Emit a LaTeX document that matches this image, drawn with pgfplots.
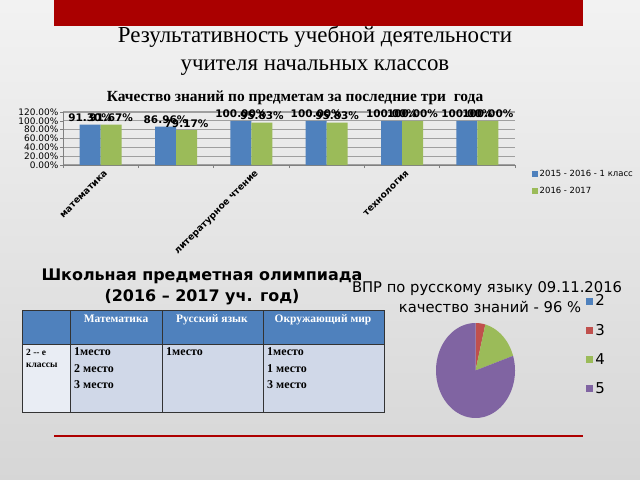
\documentclass[border=0pt]{standalone}
\usepackage{pgfplots}
\pgfplotsset{compat=1.18}
\usepackage{fontspec}
\setmainfont{DejaVu Sans}
\newfontfamily\tnr{Liberation Serif}
\definecolor{cblue}{HTML}{4F81BD}
\definecolor{cgreen}{HTML}{9BBB59}
\definecolor{cred}{HTML}{C0504D}
\definecolor{cpurple}{HTML}{8064A2}
\definecolor{slidered}{HTML}{AA0000}
\definecolor{thead}{HTML}{4F81BD}
\definecolor{tbody}{HTML}{D0D8E8}
\definecolor{tfirst}{HTML}{E9EDF4}
\begin{document}
\begin{tikzpicture}[x=1bp,y=-1bp]
\shade[top color=white!95!black, bottom color=white!84!black] (0,0) rectangle (640,480);
\fill[slidered] (54,0) rectangle (583,26);
\node[font=\tnr\fontsize{23}{28}\selectfont, anchor=base, inner sep=0] at (315,43) {Результативность учебной деятельности};
\node[font=\tnr\fontsize{23}{28}\selectfont, anchor=base, inner sep=0] at (315,71) {учителя начальных классов};
\node[font=\tnr\bfseries\fontsize{15.5}{17}\selectfont, anchor=base, inner sep=0] at (295,102) {Качество знаний по предметам за последние три\ \ года};

\begin{axis}[at={(63bp,-165bp)}, anchor=south west, scale only axis,
  width=452bp, height=53bp,
  ybar=0pt, bar width=21bp,
  ymin=0, ymax=120, xmin=-0.5, xmax=5.5,
  axis x line*=bottom, axis y line*=left,
  axis line style={gray, line width=0.8bp},
  ytick={0,20,...,120},
  yticklabels={0.00\%,20.00\%,40.00\%,60.00\%,80.00\%,100.00\%,120.00\%},
  /pgf/number format/assume math mode=true,
  ymajorgrids, grid style={gray!75, line width=1.1bp},
  tick align=outside, major tick length=3bp,
  tick style={gray, line width=0.6bp},
  xtick={-0.5,0.5,...,5.5}, xticklabels={},
  extra x ticks={0,1,2,3,4,5},
  extra x tick labels={математика,,литературное чтение,,технология,},
  extra x tick style={major tick length=0pt, grid=none},
  x tick label style={font=\bfseries\fontsize{9.2}{10}\selectfont, rotate=45, anchor=north east, inner sep=1bp, yshift=-5bp},
  y tick label style={font=\fontsize{9}{9}\selectfont, inner sep=1.5bp},
  nodes near coords={\pgfmathprintnumber[fixed,fixed zerofill,precision=2]{\pgfplotspointmeta}\%},
  every node near coord/.append style={font=\bfseries\fontsize{10.5}{11}\selectfont, black, inner sep=1.5bp, yshift=1bp},
  legend style={at={(1.03,-0.02)}, anchor=north west, draw=none, fill=none,
    font=\fontsize{8.5}{9}\selectfont, row sep=5bp},
  legend cell align=left,
  legend image code/.code={\fill[#1,draw=none] (0bp,-3bp) rectangle (6bp,3bp);},
]
\addplot[fill=cblue, draw=none] coordinates {(0,91.30) (1,86.96) (2,100) (3,100) (4,100) (5,100)};
\addplot[fill=cgreen, draw=none] coordinates {(0,91.67) (1,79.17) (2,95.83) (3,95.83) (4,100) (5,100)};
\legend{2015 - 2016 - 1 класс, 2016 - 2017}
\end{axis}

\node[font=\bfseries\fontsize{16}{18}\selectfont, anchor=base, inner sep=0] at (202,280) {Школьная предметная олимпиада};
\node[font=\bfseries\fontsize{16}{18}\selectfont, anchor=base, inner sep=0] at (202,301) {(2016 -- 2017 уч. год)};

% table
\fill[thead] (22,310) rectangle (384,344);
\fill[tbody] (70,344) rectangle (384,412);
\fill[tfirst] (22,344) rectangle (70,412);
\draw[black!80, line width=0.8bp] (22,310) rectangle (384,412);
\draw[black!80, line width=0.8bp] (22,344) -- (384,344);
\foreach \x in {70,162,263} \draw[black!80, line width=0.8bp] (\x,310) -- (\x,412);
\begin{scope}[every node/.style={inner sep=0, anchor=base}]
\node[font=\tnr\bfseries\fontsize{11.5}{13}\selectfont, white] at (116,322) {Математика};
\node[font=\tnr\bfseries\fontsize{11.5}{13}\selectfont, white] at (212,322) {Русский язык};
\node[font=\tnr\bfseries\fontsize{11.5}{13}\selectfont, white] at (323,322) {Окружающий мир};
\node[font=\tnr\bfseries\fontsize{9.5}{11}\selectfont, anchor=base west] at (26,355) {2 -- е};
\node[font=\tnr\bfseries\fontsize{9.5}{11}\selectfont, anchor=base west] at (26,367) {классы};
\node[font=\tnr\bfseries\fontsize{12}{14}\selectfont, anchor=base west] at (74,355) {1место};
\node[font=\tnr\bfseries\fontsize{12}{14}\selectfont, anchor=base west] at (74,372) {2 место};
\node[font=\tnr\bfseries\fontsize{12}{14}\selectfont, anchor=base west] at (74,388) {3 место};
\node[font=\tnr\bfseries\fontsize{12}{14}\selectfont, anchor=base west] at (166,355) {1место};
\node[font=\tnr\bfseries\fontsize{12}{14}\selectfont, anchor=base west] at (267,355) {1место};
\node[font=\tnr\bfseries\fontsize{12}{14}\selectfont, anchor=base west] at (267,372) {1 место};
\node[font=\tnr\bfseries\fontsize{12}{14}\selectfont, anchor=base west] at (267,388) {3 место};
\end{scope}

\node[font=\fontsize{14.8}{16}\selectfont, anchor=base, inner sep=0] at (487,292) {ВПР по русскому языку 09.11.2016};
\node[font=\fontsize{14.8}{16}\selectfont, anchor=base, inner sep=0] at (490,312) {качество знаний - 96 \%};

\begin{axis}[at={(475.5bp,-370.5bp)}, anchor=center, scale only axis,
  width=79bp, height=95bp, xmin=-1, xmax=1, ymin=-1, ymax=1, hide axis,
  legend style={at={(1.90,1.32)}, anchor=north west, draw=none, fill=none,
    font=\fontsize{15}{17}\selectfont, row sep=12.8bp, inner sep=0pt},
  legend cell align=left,
  legend image code/.code={\fill[#1,draw=none] (0bp,-3.5bp) rectangle (7bp,3.5bp);},
]
% shares: 2 -> 0 %, 3 -> 4 %, 4 -> 16 %, 5 -> 80 % (clockwise from the top)
\addlegendimage{fill=cblue}
\addlegendentry{2}
\addplot[fill=cred, draw=none, domain={90-3.6*4}:90, samples=10] ({cos(x)},{sin(x)}) -- (axis cs:0,0) -- cycle;
\addlegendentry{3}
\addplot[fill=cgreen, draw=none, domain={90-3.6*(4+16)}:{90-3.6*4}, samples=20] ({cos(x)},{sin(x)}) -- (axis cs:0,0) -- cycle;
\addlegendentry{4}
\addplot[fill=cpurple, draw=none, domain={90-3.6*100}:{90-3.6*20}, samples=80] ({cos(x)},{sin(x)}) -- (axis cs:0,0) -- cycle;
\addlegendentry{5}
\end{axis}

\draw[slidered!95!red, line width=2bp] (54,436) -- (583,436);
\pgfresetboundingbox
\useasboundingbox (0,0) rectangle (640,480);
\end{tikzpicture}
\end{document}
